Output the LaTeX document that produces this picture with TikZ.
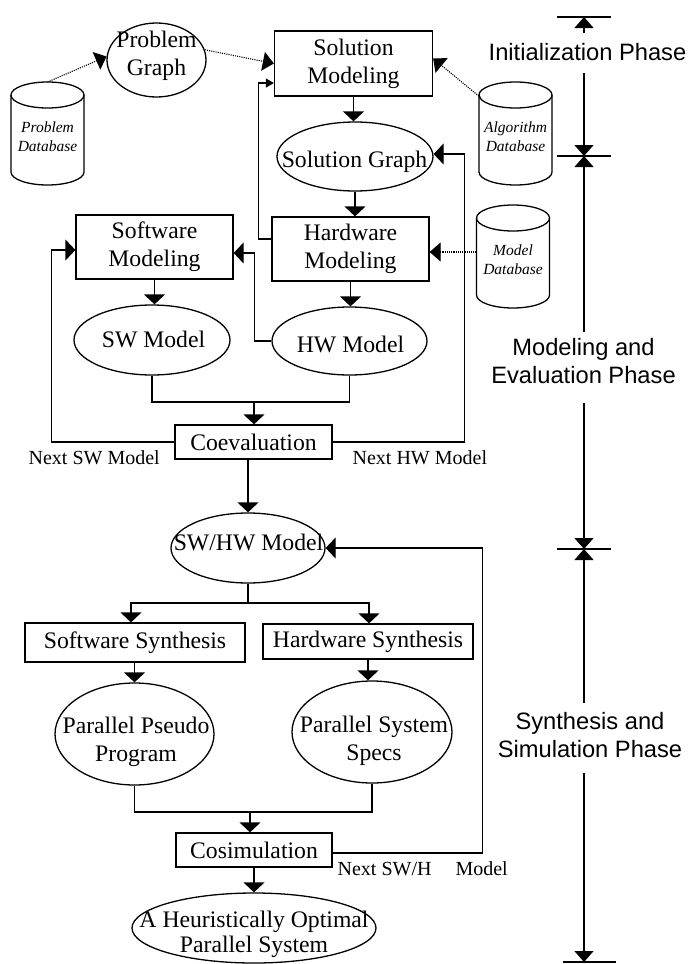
\documentclass[tikz,border=0pt]{standalone}
\usepackage{fontspec}
\setmainfont{Liberation Serif}
\setsansfont{Liberation Sans}
\usetikzlibrary{shapes.geometric,arrows.meta}

\newcommand\flowfont{\fontsize{23.7}{28}\selectfont}
\newcommand\notefont{\fontsize{20}{24}\selectfont}
\newcommand\dbfont{\fontsize{15.5}{19}\selectfont\itshape}
\newcommand\phasefont{\sffamily\fontsize{23.7}{28}\selectfont}

\begin{document}
\begin{tikzpicture}[x=1pt,y=-1pt,
  line width=1.3pt,
  box/.style={draw, rectangle, inner sep=0pt, align=center, font=\flowfont},
  ell/.style={draw, ellipse, inner sep=0pt},
  txt/.style={inner sep=0pt, align=center, font=\flowfont},
  arr/.style={-{Triangle[width=21pt,length=10pt]}},
  smallarr/.style={-{Triangle[width=9pt,length=8pt]}},
  dotarr/.style={line width=1.1pt, dash pattern=on 1.1pt off 1.1pt,
                 -{Triangle[width=19pt,length=11pt]}},
  parr/.style={line width=1.2pt, -{Triangle[width=19pt,length=11pt]}},
  note/.style={inner sep=0pt, font=\notefont},
  phase/.style={inner sep=0pt, align=center, font=\phasefont},
  pics/dbcyl/.style={code={
    \draw (-36.5,-38.5) -- (-36.5,38.5)
      .. controls (-36.5,45.68) and (-20.16,51.5) .. (0,51.5)
      .. controls (20.16,51.5) and (36.5,45.68) .. (36.5,38.5)
      -- (36.5,-38.5);
    \draw (0,-38.5) ellipse [x radius=36.5, y radius=13];
    \node[inner sep=0pt, align=center, font=\dbfont] (-label) at (0,3) {#1};
    \coordinate (-top) at (0,-51.5);
    \coordinate (-nw) at (-35,-36);
    \coordinate (-w) at (-36.5,-4.5);
  }}
]
\useasboundingbox (0,0) rectangle (692,964);

% databases
\pic (pdb) at (47.5,133.5) {dbcyl={Problem\\Database}};
\pic (adb) at (515.5,133.5) {dbcyl={Algorithm\\Database}};
\pic (mdb) at (513,256.5) {dbcyl={Model\\Database}};

% modeling stage
\node[ell, minimum width=99pt, minimum height=74pt] (pg) at (156.5,60) {};
\node[txt] (pgt) at (156.5,55.6) {Problem\\Graph};
\node[box, minimum width=158pt, minimum height=65pt] (sm) at (353.5,63.5) {Solution\\Modeling};
\node[ell, minimum width=156pt, minimum height=69pt] (sg) at (355,156.5) {};
\node[txt, anchor=base] (sgt) at (354.5,167) {Solution Graph};
\node[box, minimum width=157pt, minimum height=64pt] (hm) at (350.5,249) {Hardware\\Modeling};
\node[box, minimum width=157pt, minimum height=64pt] (swm) at (154.5,247) {Software\\Modeling};
\node[ell, minimum width=156pt, minimum height=70pt] (swmod) at (152,340) {};
\node[txt, anchor=base] (swmodt) at (153.5,347) {SW Model};
\node[ell, minimum width=155pt, minimum height=68pt] (hwmod) at (349.5,341) {};
\node[txt, anchor=base] (hwmodt) at (350.5,352) {HW Model};
\node[box, minimum width=157pt, minimum height=34pt] (coev) at (253.5,442) {Coevaluation};

% synthesis stage
\node[ell, minimum width=154pt, minimum height=70pt] (swhw) at (248,548) {};
\node[txt, anchor=base] (swhwt) at (248.5,550) {SW/HW Model};
\node[box, minimum width=220pt, minimum height=39pt] (sws) at (135,642.5) {Software Synthesis};
\node[box, minimum width=210pt, minimum height=35pt] (hws) at (368,641.5) {Hardware Synthesis};
\node[ell, minimum width=159pt, minimum height=102pt] (ppp) at (134.5,734) {};
\node[txt] (pppt) at (136,741.5) {Parallel Pseudo\\Program};
\node[ell, minimum width=160pt, minimum height=102pt] (pss) at (372,732) {};
\node[txt] (psst) at (374,740.5) {Parallel System\\Specs};
\node[box, minimum width=156pt, minimum height=34pt] (cosim) at (254,850) {Cosimulation};
\node[ell, minimum width=244pt, minimum height=70pt] (fin) at (254,928) {};
\node[txt] (fint) at (254,934) {A Heuristically Optimal\\[-3pt]Parallel System};

% database inputs
\draw[dotarr] (pdb-top) -- (pg.176);
\draw[dotarr] (pg.12) -- (sm.west);
\draw[dotarr] (adb-nw) -- ([yshift=5pt]sm.east);
\draw[dotarr] (mdb-w) -- ([yshift=-3pt]hm.east);

% modeling flow
\draw[arr] (sm.south) -- (sm.south |- sg.north);
\draw[arr] (sg.south) -- (sg.south |- hm.north);
\draw[smallarr] ([yshift=10pt]hm.west) -- ++(-13,0) |- ([yshift=-19.5pt]sm.west);
\draw[arr] (swm.south) -- (swm.south |- swmod.north);
\draw[arr] (hm.south) -- (hm.south |- hwmod.north);
\draw[arr] (hwmod.west) -- ++(-17,0) |- ([yshift=-6pt]swm.east);
\coordinate (j1) at (254,402);
\draw (swmod.south) |- (j1) -| (hwmod.south);
\draw[arr] (j1) -- (j1 |- coev.north);
\draw[arr] (coev.west) -- ++(-123,0) |- ([yshift=-3pt]swm.west);
\draw[arr] (coev.east) -- ++(132,0) |- ([yshift=2.5pt]sg.east);
\node[note, anchor=base west] (nsw) at (28,464) {Next SW Model};
\node[note, anchor=base west] (nhw) at (352,464) {Next HW Model};

% synthesis flow
\draw[arr] (coev.south -| swhw.north) -- (swhw.north);
\coordinate (j2) at (248,603);
\draw (swhw.south) -- (j2);
\draw[arr] (j2) -| ([xshift=-4pt]sws.north);
\draw[arr] (j2) -| ([xshift=1pt]hws.north);
\draw[arr] (sws.south -| ppp.north) -- (ppp.north);
\draw[arr] (hws.south) -- (hws.south |- pss.north);
\coordinate (j3) at (250,812);
\draw (ppp.south) |- (j3) -| (pss.south);
\draw[arr] (j3) -- (j3 |- cosim.north);
\draw[arr] (cosim.south) -- (cosim.south |- fin.north);
\draw[arr] ([yshift=-3pt]cosim.east) -- ++(150,0) |- (swhw.east);
\node[note, anchor=base west] (nswh) at (337,875) {Next SW/H\hspace{24pt}Model};

% phase scale
\coordinate (b1) at (584,17);
\coordinate (b2) at (584,156);
\coordinate (b3) at (584,549);
\coordinate (b4) at (584,962);
\draw (557,17) -- (611,17);
\draw (557,156) -- (611,156);
\draw (557,549) -- (611,549);
\draw (563,962) -- (616,962);
\node[phase, anchor=base] (ph1) at (587.5,60) {Initialization Phase};
\node[phase] (ph2) at (583.5,361.5) {Modeling and\\Evaluation Phase};
\node[phase] (ph3) at (590,735) {Synthesis and\\Simulation Phase};
\coordinate (p1a) at (584,33);
\coordinate (p1b) at (584,73);
\coordinate (p2a) at (584,332);
\coordinate (p2b) at (584,403);
\coordinate (p3a) at (584,703);
\coordinate (p3b) at (584,773);
\draw[parr] (p1a) -- (b1);
\draw[parr] (p1b) -- (b2);
\draw[parr] (p2a) -- (b2);
\draw[parr] (p2b) -- (b3);
\draw[parr] (p3a) -- (b3);
\draw[parr] (p3b) -- (b4);
\end{tikzpicture}
\end{document}
